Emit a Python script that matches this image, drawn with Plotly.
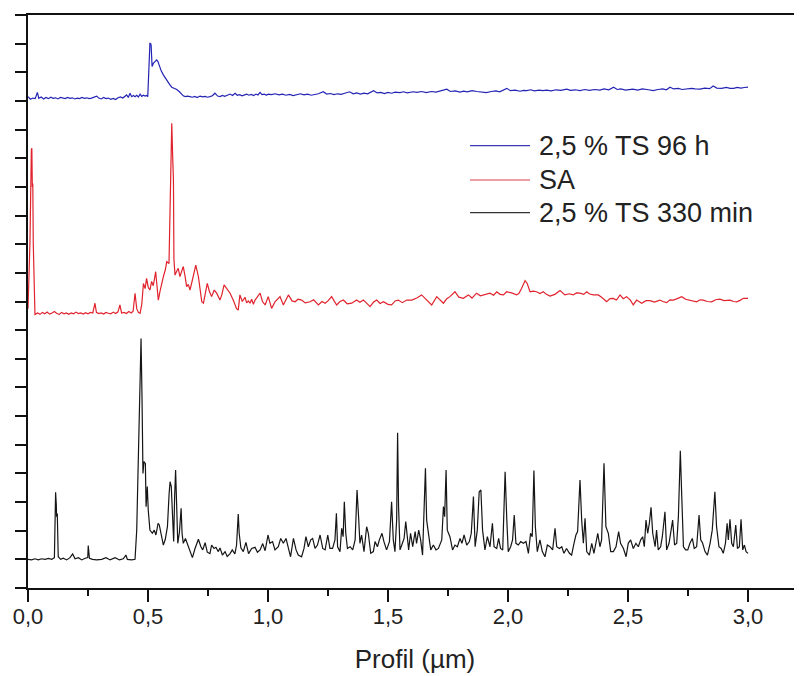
import plotly.graph_objects as go

# ---- data (profile position in µm, signal in arbitrary stacked units) ----
blue_x = [0.0,0.01,0.02,0.03,0.039,0.045,0.055,0.065,0.075,0.085,0.095,0.105,0.115,0.125,0.135,0.145,0.155,0.165,0.175,0.185,
          0.195,0.205,0.215,0.225,0.235,0.245,0.255,0.265,0.275,0.286,0.295,0.305,0.315,0.325,0.335,0.345,0.355,0.365,0.375,0.385,
          0.395,0.405,0.411,0.418,0.425,0.432,0.439,0.446,0.453,0.46,0.467,0.474,0.481,0.488,0.495,0.499,0.504,0.506,0.508,0.511,
          0.513,0.517,0.522,0.53,0.536,0.541,0.547,0.555,0.564,0.575,0.585,0.592,0.599,0.606,0.613,0.62,0.631,0.64,0.647,0.655,
          0.665,0.675,0.685,0.695,0.705,0.717,0.728,0.738,0.748,0.758,0.768,0.779,0.79,0.8,0.81,0.82,0.83,0.842,0.852,0.863,
          0.872,0.882,0.892,0.902,0.911,0.92,0.93,0.94,0.95,0.958,0.967,0.975,0.985,0.993,1.001,1.015,1.03,1.045,1.06,1.075,
          1.09,1.105,1.12,1.135,1.15,1.165,1.18,1.195,1.21,1.23,1.245,1.26,1.275,1.29,1.305,1.32,1.34,1.355,1.37,1.385,
          1.4,1.415,1.44,1.455,1.47,1.485,1.5,1.515,1.53,1.55,1.565,1.58,1.605,1.62,1.64,1.66,1.68,1.7,1.72,1.745,
          1.76,1.78,1.8,1.815,1.83,1.85,1.87,1.89,1.91,1.93,1.95,1.965,1.98,1.995,2.01,2.03,2.05,2.065,2.078,2.095,
          2.11,2.13,2.145,2.161,2.18,2.2,2.22,2.245,2.26,2.28,2.3,2.32,2.34,2.36,2.383,2.4,2.42,2.44,2.455,2.47,
          2.49,2.52,2.54,2.56,2.585,2.605,2.625,2.645,2.66,2.675,2.69,2.71,2.725,2.745,2.765,2.78,2.8,2.82,2.84,2.855,
          2.87,2.89,2.91,2.925,2.94,2.955,2.97,2.985,3.0]
blue_y = [17.15,17.06,17.10,17.08,17.30,17.09,17.14,17.07,17.12,17.08,17.13,17.09,17.11,17.07,17.12,17.10,17.08,17.12,17.09,17.11,
          17.07,17.10,17.08,17.12,17.09,17.11,17.08,17.10,17.13,17.17,17.10,17.07,17.12,17.08,17.10,17.06,17.09,17.05,17.11,17.14,
          17.10,17.16,17.21,17.12,17.27,17.15,17.19,17.15,17.20,17.14,17.24,17.16,17.20,17.17,17.19,17.15,18.30,18.78,19.01,19.00,
          18.95,18.20,18.31,18.38,18.43,18.38,18.20,18.05,17.91,17.75,17.62,17.55,17.48,17.46,17.44,17.40,17.32,17.24,17.18,17.15,
          17.17,17.15,17.13,17.16,17.12,17.17,17.14,17.16,17.13,17.15,17.18,17.27,17.17,17.15,17.19,17.16,17.20,17.24,17.19,17.27,
          17.20,17.22,17.18,17.22,17.24,17.20,17.23,17.19,17.24,17.21,17.30,17.22,17.24,17.20,17.24,17.22,17.25,17.21,17.24,17.20,
          17.23,17.19,17.22,17.25,17.21,17.24,17.20,17.23,17.25,17.32,17.24,17.26,17.22,17.25,17.23,17.27,17.32,17.25,17.28,17.24,
          17.27,17.25,17.36,17.28,17.30,17.26,17.30,17.27,17.31,17.29,17.32,17.28,17.32,17.30,17.33,17.29,17.33,17.31,17.35,17.41,
          17.33,17.35,17.31,17.34,17.32,17.36,17.33,17.30,17.29,17.33,17.35,17.32,17.37,17.44,17.36,17.38,17.34,17.37,17.36,17.39,
          17.35,17.38,17.36,17.38,17.35,17.39,17.37,17.41,17.37,17.39,17.36,17.40,17.37,17.40,17.38,17.42,17.39,17.48,17.40,17.42,
          17.38,17.41,17.38,17.42,17.39,17.36,17.40,17.42,17.39,17.48,17.42,17.44,17.40,17.41,17.44,17.42,17.41,17.45,17.43,17.52,
          17.45,17.44,17.47,17.44,17.44,17.47,17.45,17.47,17.48]

red_x = [0.0,0.008,0.014,0.016,0.018,0.02,0.022,0.026,0.029,0.04,0.05,0.06,0.07,0.08,0.09,0.10,0.11,0.12,0.13,0.14,
         0.15,0.16,0.17,0.18,0.19,0.20,0.21,0.22,0.23,0.24,0.25,0.26,0.27,0.279,0.285,0.295,0.305,0.315,0.325,0.335,
         0.345,0.355,0.365,0.375,0.383,0.39,0.40,0.41,0.42,0.43,0.438,0.446,0.453,0.46,0.467,0.474,0.481,0.488,0.494,0.501,
         0.508,0.515,0.522,0.532,0.537,0.543,0.55,0.557,0.565,0.572,0.578,0.5875,0.594,0.599,0.603,0.606,0.608,0.6125,0.619,0.626,
         0.633,0.64,0.647,0.654,0.661,0.668,0.675,0.685,0.692,0.699,0.71,0.717,0.724,0.731,0.739,0.747,0.756,0.765,0.776,0.786,
         0.8,0.808,0.817,0.83,0.842,0.855,0.869,0.876,0.883,0.893,0.904,0.911,0.918,0.925,0.932,0.939,0.946,0.955,0.967,0.977,
         0.988,1.001,1.015,1.03,1.05,1.064,1.085,1.1,1.113,1.125,1.14,1.155,1.175,1.19,1.21,1.225,1.238,1.25,1.265,1.286,
         1.3,1.314,1.33,1.349,1.369,1.383,1.397,1.41,1.425,1.44,1.453,1.467,1.481,1.5,1.515,1.53,1.543,1.56,1.578,1.599,
         1.62,1.64,1.661,1.682,1.703,1.72,1.731,1.745,1.758,1.779,1.795,1.814,1.835,1.85,1.869,1.885,1.897,1.91,1.925,1.94,
         1.953,1.967,1.981,1.994,2.015,2.036,2.045,2.057,2.071,2.08,2.092,2.105,2.119,2.133,2.147,2.16,2.175,2.195,2.217,2.237,
         2.255,2.272,2.285,2.3,2.315,2.328,2.34,2.356,2.376,2.39,2.411,2.425,2.439,2.452,2.467,2.48,2.494,2.51,2.522,2.536,
         2.557,2.575,2.592,2.61,2.633,2.645,2.661,2.675,2.689,2.705,2.724,2.74,2.758,2.775,2.786,2.8,2.814,2.83,2.849,2.865,
         2.883,2.9,2.925,2.94,2.953,2.967,2.981,3.0]
red_y = [9.75,12.00,15.30,15.35,14.00,14.12,12.00,9.70,9.55,9.60,9.55,9.62,9.57,9.63,9.56,9.60,9.65,9.58,9.55,9.62,
         9.57,9.60,9.55,9.60,9.57,9.63,9.58,9.60,9.56,9.61,9.57,9.62,9.60,9.94,9.62,9.58,9.60,9.56,9.62,9.59,
         9.57,9.63,9.58,9.64,9.88,9.60,9.62,9.58,9.65,9.60,9.66,10.29,9.75,9.62,9.59,9.90,10.63,10.45,10.81,10.50,
         10.40,10.70,10.55,11.04,10.60,10.05,10.35,10.63,10.90,11.10,11.39,11.33,14.00,16.22,15.00,14.24,11.50,10.92,11.05,11.16,
         10.87,11.05,11.22,10.90,10.52,10.60,10.40,10.75,11.00,11.27,10.87,10.40,9.99,9.94,10.30,10.63,10.35,10.17,10.40,10.29,
         10.05,10.25,10.58,10.45,10.29,10.05,9.75,9.70,10.23,10.00,10.15,9.95,10.02,9.94,10.08,9.90,10.05,10.15,10.29,10.00,
         9.88,10.17,9.76,10.00,10.17,9.88,10.23,10.02,9.99,10.08,10.05,9.95,9.99,10.06,9.88,10.00,9.94,10.02,10.17,9.88,
         10.00,10.05,9.92,9.94,10.05,9.97,10.05,9.95,9.82,9.98,10.05,9.93,9.99,9.90,9.88,10.02,10.05,9.96,10.05,10.05,
         10.12,10.23,10.05,9.88,10.17,10.05,9.94,10.10,10.17,10.34,10.15,10.11,10.23,10.12,10.29,10.20,10.23,10.25,10.29,10.22,
         10.34,10.25,10.23,10.34,10.30,10.23,10.28,10.46,10.73,10.63,10.34,10.36,10.34,10.28,10.34,10.25,10.19,10.25,10.38,10.23,
         10.27,10.23,10.30,10.29,10.25,10.34,10.26,10.23,10.23,10.15,9.99,10.10,10.11,10.05,10.23,10.10,10.17,10.05,9.88,10.05,
         9.94,10.03,10.03,9.98,10.05,10.00,9.96,10.06,10.05,10.10,10.17,10.08,10.05,10.00,9.99,10.06,10.05,10.00,9.99,10.06,
         10.08,10.03,10.05,10.00,9.99,10.04,10.11,10.11]

black_x = [0.0,0.015,0.029,0.043,0.057,0.071,0.085,0.099,0.11,0.114,0.115,0.118,0.119,0.122,0.126,0.136,0.147,0.161,0.175,0.186,
           0.196,0.21,0.224,0.238,0.249,0.251,0.256,0.269,0.286,0.307,0.325,0.342,0.363,0.381,0.397,0.408,0.414,0.432,0.446,0.453,
           0.46,0.467,0.471,0.475,0.479,0.483,0.489,0.492,0.497,0.501,0.508,0.518,0.526,0.533,0.542,0.547,0.556,0.564,0.572,0.581,
           0.588,0.592,0.597,0.603,0.607,0.611,0.615,0.619,0.624,0.631,0.638,0.642,0.647,0.656,0.665,0.675,0.685,0.696,0.71,0.72,
           0.728,0.738,0.747,0.758,0.765,0.775,0.783,0.793,0.8,0.81,0.821,0.83,0.842,0.851,0.862,0.869,0.876,0.88,0.887,0.897,
           0.908,0.919,0.932,0.946,0.956,0.967,0.978,0.988,1.0,1.008,1.019,1.029,1.043,1.053,1.064,1.075,1.085,1.094,1.106,1.117,
           1.126,1.14,1.15,1.158,1.168,1.178,1.186,1.196,1.206,1.217,1.228,1.238,1.249,1.258,1.269,1.279,1.285,1.29,1.3,1.307,
           1.313,1.318,1.324,1.331,1.342,1.353,1.363,1.371,1.378,1.383,1.39,1.4,1.411,1.418,1.428,1.439,1.446,1.456,1.464,1.475,
           1.483,1.494,1.506,1.515,1.522,1.529,1.536,1.54,1.544,1.55,1.56,1.567,1.574,1.579,1.586,1.594,1.603,1.613,1.619,1.628,
           1.636,1.644,1.651,1.656,1.661,1.668,1.678,1.689,1.7,1.71,1.724,1.731,1.736,1.742,1.747,1.758,1.769,1.779,1.789,1.8,
           1.808,1.817,1.828,1.839,1.847,1.856,1.863,1.872,1.88,1.887,1.894,1.904,1.914,1.925,1.935,1.942,1.953,1.961,1.969,1.978,
           1.988,1.995,2.001,2.011,2.019,2.026,2.033,2.043,2.053,2.064,2.075,2.085,2.094,2.101,2.108,2.114,2.122,2.133,2.143,2.154,
           2.164,2.175,2.186,2.196,2.203,2.214,2.224,2.233,2.244,2.256,2.265,2.275,2.283,2.29,2.3,2.307,2.314,2.321,2.328,2.339,
           2.349,2.358,2.367,2.374,2.383,2.39,2.4,2.408,2.418,2.428,2.439,2.45,2.461,2.469,2.481,2.492,2.501,2.511,2.522,2.533,
           2.543,2.553,2.561,2.568,2.575,2.582,2.589,2.596,2.603,2.613,2.619,2.626,2.636,2.643,2.654,2.661,2.671,2.679,2.686,2.694,
           2.703,2.71,2.714,2.718,2.724,2.731,2.74,2.749,2.758,2.768,2.776,2.786,2.796,2.803,2.811,2.821,2.831,2.842,2.851,2.862,
           2.869,2.879,2.888,2.897,2.906,2.913,2.918,2.925,2.932,2.939,2.949,2.956,2.964,2.971,2.978,2.985,2.992,3.0]
black_y = [1.00,0.98,1.02,0.98,1.02,1.00,1.03,1.00,1.06,3.10,3.34,2.90,2.49,2.60,1.09,1.00,1.04,0.98,1.06,1.19,
           1.02,1.06,0.98,1.04,1.06,1.48,1.04,1.00,0.98,1.00,1.06,0.98,1.06,0.98,1.02,1.15,1.00,0.98,1.00,2.02,
           4.47,7.84,8.71,6.68,4.00,4.41,4.35,2.84,3.54,2.72,2.02,1.91,2.02,1.85,2.26,2.20,1.85,1.50,1.70,2.14,
           3.30,3.71,3.54,2.30,1.62,3.20,4.12,3.00,1.56,1.95,2.78,1.90,1.56,1.73,1.50,1.27,1.06,1.38,1.70,1.45,
           1.33,1.58,1.25,1.20,1.50,1.38,1.42,1.27,1.40,1.15,1.27,1.10,1.20,1.33,1.19,1.50,2.58,1.90,1.40,1.27,
           1.59,1.20,1.38,1.42,1.25,1.33,1.55,1.30,1.85,1.56,1.62,1.33,1.44,1.73,1.56,1.73,1.38,1.09,1.73,1.33,
           1.15,1.09,1.38,1.79,1.44,1.68,1.73,1.38,1.50,1.85,1.38,1.33,1.85,1.38,1.38,1.68,2.61,1.44,1.27,2.08,
           1.79,3.01,1.91,1.38,1.44,1.33,1.68,3.42,2.40,1.56,1.85,1.27,2.14,1.91,1.21,1.27,1.62,1.44,1.68,1.91,
           1.62,1.33,1.62,3.01,1.68,1.27,2.37,5.42,2.84,1.33,1.56,1.73,2.32,1.91,1.33,1.91,1.44,1.97,1.56,2.02,
           1.68,1.15,2.84,4.18,2.37,1.85,1.33,1.50,1.33,1.38,1.68,2.84,2.49,4.12,2.02,1.79,1.33,1.50,1.44,1.73,
           1.56,1.85,1.50,1.62,1.91,3.19,1.44,2.02,3.36,3.42,2.02,1.33,1.79,1.44,2.26,1.44,1.38,1.73,1.38,1.33,
           4.06,2.37,1.27,1.44,1.68,2.55,1.56,1.50,1.62,1.56,1.62,1.21,1.91,1.79,4.10,2.14,1.27,1.68,1.27,1.09,
           1.50,1.44,1.33,2.08,1.44,1.38,1.44,1.21,1.38,1.21,1.15,1.56,1.85,1.97,3.77,2.37,1.56,2.43,1.27,1.15,
           1.56,1.21,1.62,1.91,1.44,1.68,4.35,2.14,1.91,1.27,1.27,1.44,1.97,1.56,1.38,1.09,1.56,1.68,1.38,1.56,
           1.44,1.68,1.79,1.44,2.37,1.91,2.26,2.82,1.91,1.44,2.02,1.33,1.44,1.79,2.66,1.33,1.56,1.97,2.37,1.50,
           1.56,2.49,3.54,4.79,3.19,1.44,1.33,1.33,1.56,1.73,1.38,1.44,2.55,1.68,1.56,1.27,1.15,1.56,2.02,3.36,
           2.14,1.44,1.38,1.21,1.56,2.26,1.68,2.40,1.56,1.44,2.20,1.38,1.44,2.40,1.33,1.50,1.27,1.21]

series_names = ["2,5 % TS 96 h", "SA", "2,5 % TS 330 min"]
series_colors = ["#2424b4", "#e0232d", "#151515"]
x_title = "Profil (\u00b5m)"

fig = go.Figure()
for xs, ys, name, col in zip([blue_x, red_x, black_x], [blue_y, red_y, black_y], series_names, series_colors):
    fig.add_trace(go.Scatter(x=xs, y=ys, mode="lines", name=name,
                             line=dict(color=col, width=1.2), showlegend=False))

# legend drawn as line samples + text (paper coordinates)
legend_rows_y = [0.7720, 0.7120, 0.6550]
legend_colors = ["#3a3ab8", "#d8404a", "#333333"]
for name, col, ly in zip(series_names, legend_colors, legend_rows_y):
    fig.add_shape(type="line", xref="paper", yref="paper",
                  x0=0.5711, x1=0.6486, y0=ly, y1=ly,
                  line=dict(color=col, width=1.2))
    fig.add_annotation(xref="paper", yref="paper", x=0.6570, y=ly,
                       xanchor="left", yanchor="middle", showarrow=False,
                       text=name, font=dict(size=27, color="#222222"))

# page body adds an 8 px offset, so the figure is sized to fit the window
fig.update_layout(
    width=794, height=668,
    margin=dict(l=20, r=0, t=7, b=88, autoexpand=False),
    paper_bgcolor="white", plot_bgcolor="white",
    separators=",.",
    font=dict(family="Liberation Sans, Arial, sans-serif", color="#222222"),
    showlegend=False,
)
fig.update_xaxes(
    range=[0, 3.225], showgrid=False, zeroline=False, automargin=False,
    showline=True, linecolor="#111111", linewidth=2, mirror=True,
    ticks="outside", ticklen=12, tickwidth=1.5, tickcolor="#111111",
    tick0=0, dtick=0.5, tickformat=".1f", ticklabelstandoff=-4,
    tickfont=dict(size=22, color="#222222"),
    minor=dict(ticks="outside", ticklen=6, tickwidth=1.5, tickcolor="#111111", dtick=0.25, showgrid=False),
    title=dict(text=x_title, font=dict(size=26, color="#222222"), standoff=21),
)
fig.update_yaxes(
    range=[0, 20], showgrid=False, zeroline=False, automargin=False,
    showline=True, linecolor="#111111", linewidth=2, mirror=False,
    ticks="outside", ticklen=11, tickwidth=1.5, tickcolor="#111111",
    tick0=0, dtick=1, showticklabels=False,
)

fig.write_html("out.html")
